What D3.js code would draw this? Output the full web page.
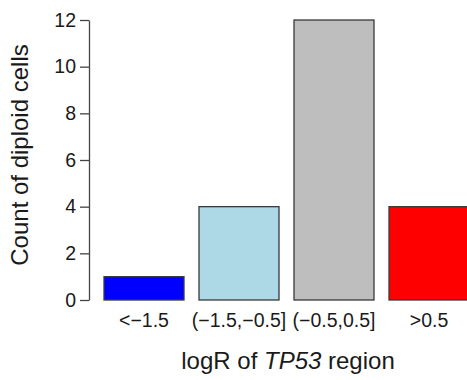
<!DOCTYPE html>
<html>
<head>
<meta charset="utf-8">
<script src="https://cdn.jsdelivr.net/npm/d3@7"></script>
<style>
  html, body { margin: 0; padding: 0; background: #fff; }
  svg { display: block; }
  text { font-family: "Liberation Sans", Arial, sans-serif; fill: #1a1a1a; }
</style>
</head>
<body>
<svg id="chart" width="467" height="380"></svg>
<script>
const categories = ["<\u22121.5", "(\u22121.5,\u22120.5]", "(\u22120.5,0.5]", ">0.5"];
const counts = [1, 4, 12, 4];
const barColors = ["#0000FF", "#ADD8E6", "#BEBEBE", "#FF0000"];
const yTicks = [0, 2, 4, 6, 8, 10, 12];
const yTitle = "Count of diploid cells";

const svg = d3.select("#chart");

const y = d3.scaleLinear().domain([0, 12]).range([300, 20]);
const pad = 15 / 95;
const x = d3.scaleBand().domain(categories).range([96.5, 476.5])
  .paddingInner(pad).paddingOuter(pad / 2);

// bars
svg.append("g").selectAll("rect")
  .data(categories)
  .join("rect")
  .attr("x", d => x(d))
  .attr("y", (d, i) => y(counts[i]))
  .attr("width", x.bandwidth())
  .attr("height", (d, i) => y(0) - y(counts[i]))
  .attr("fill", (d, i) => barColors[i])
  .attr("stroke", "#3a3a3a")
  .attr("stroke-width", 1.3);

// y axis
const yAxis = svg.append("g")
  .attr("transform", "translate(89,0)")
  .call(d3.axisLeft(y).tickValues(yTicks).tickSize(9).tickSizeOuter(0).tickPadding(4));
yAxis.select(".domain").attr("stroke", "#444").attr("stroke-width", 1.3);
yAxis.selectAll(".tick line").attr("stroke", "#444").attr("stroke-width", 1.3);
yAxis.selectAll(".tick text")
  .attr("font-size", 19.5)
  .attr("font-family", "Liberation Sans, Arial, sans-serif")
  .attr("fill", "#1a1a1a");

// x category labels (no axis line)
const xAxis = svg.append("g")
  .attr("transform", "translate(0,300)")
  .call(d3.axisBottom(x).tickSize(0).tickPadding(13));
xAxis.select(".domain").remove();
xAxis.selectAll(".tick text")
  .attr("font-size", 19.5)
  .attr("font-family", "Liberation Sans, Arial, sans-serif")
  .attr("fill", "#1a1a1a");

// y title
svg.append("text")
  .attr("transform", "translate(28,155) rotate(-90)")
  .attr("text-anchor", "middle")
  .attr("font-size", 24)
  .text(yTitle);

// x title with italic gene name
const xt = svg.append("text")
  .attr("x", 288)
  .attr("y", 369)
  .attr("text-anchor", "middle")
  .attr("font-size", 24);
xt.append("tspan").text("logR of ");
xt.append("tspan").attr("font-style", "italic").text("TP53");
xt.append("tspan").text(" region");
</script>
</body>
</html>
